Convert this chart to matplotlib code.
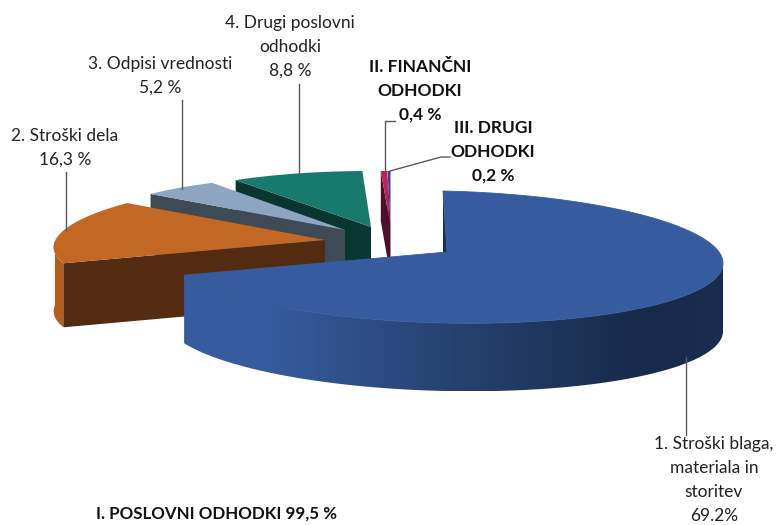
import matplotlib
matplotlib.use('Agg')
import matplotlib.pyplot as plt
import numpy as np
from matplotlib.colors import LinearSegmentedColormap
from matplotlib.patches import Polygon

plt.rcParams['font.family'] = ['Lato', 'DejaVu Sans']

# data
categories = ['1. Stroski blaga', '2. Stroski dela', '3. Odpisi vrednosti',
              '4. Drugi poslovni odhodki', 'II. Financni odhodki', 'III. Drugi odhodki']
values = [69.2, 16.3, 5.2, 8.8, 0.4, 0.2]

# label text, one entry per label
label_texts = ['1. Stroški blaga,\nmateriala in\nstoritev\n69.2%',
               '2. Stroški dela\n16,3 %',
               '3. Odpisi vrednosti\n5,2 %',
               '4. Drugi poslovni\nodhodki\n8,8 %',
               'II. FINANČNI\nODHODKI\n0,4 %',
               'III. DRUGI\nODHODKI\n0,2 %']
total_label = 'I. POSLOVNI ODHODKI 99,5 %'

# placement of each exploded slice on the page, in pixels
# apex x, apex y, rim cx, rim cy, x sin, x cos, y sin, y cos, depth
GEOM = [
    (447, 252, 444, 257, 279, -1, 6, -66, 68),
    (325, 240, 325, 240, 270, 27, -1, -62, 64),
    (345, 230, 345, 230, 252, 9, 4, -54, 60),
    (371, 227, 371, 227, 244, 0.5, 0.6, -56, 58),
    (390, 223, 390, 223, 244, 0, 0, -52, 50),
    (390.5, 223, 390.5, 223, 244, 0, 0, -52, 50),
]
TOP_COLORS = ['#365c9f', '#c26724', '#8da5c0', '#187a6e', '#b9255a', '#4b3a9a']
WALL_COLORS = ['#1b2f55', '#532b10', '#3f4a57', '#093631', '#4e0f2a', '#2e1f55']
OUTER_COLORS = [None, '#b35d1f', None, None, None, None]

LABEL_POS = [(714, 480), (65, 148), (160, 76), (290, 47), (420, 91), (493, 152)]
LABEL_BOLD = [False, False, False, False, True, True]
LEADERS = [
    [(686, 357), (686, 435)],
    [(66, 172), (66, 230)],
    [(182, 100), (182, 189)],
    [(299, 84), (299, 173)],
    [(395, 121), (385, 121), (385, 171)],
    [(450, 157), (441, 157), (390, 171)],
]


def rim_points(geom, theta):
    s = np.sin(theta)
    c = np.cos(theta)
    x = geom[2] + geom[4] * s + geom[5] * c
    y = geom[3] + geom[6] * s + geom[7] * c
    return np.column_stack([x, y])


def draw_slice(ax, i, start, end):
    geom = GEOM[i]
    depth = np.array([0, geom[8]])
    apex = np.array(geom[:2], dtype=float)
    theta = np.linspace(start, end, 200)
    rim = rim_points(geom, theta)
    # first slice ends up in front of all the others
    base = (len(values) - i) * 3

    # outer wall, only the part that faces the viewer
    front = theta[(theta >= np.pi / 2) & (theta <= 3 * np.pi / 2)]
    if len(front) > 1:
        front_rim = rim_points(geom, front)
        outline = np.vstack([front_rim, (front_rim + depth)[::-1]])
        if i == 0:
            cmap = LinearSegmentedColormap.from_list(
                'wall', [(0, '#365c9f'), (0.15, '#365c9f'), (0.5, '#27416f'),
                         (0.85, '#182a4a'), (1, '#1b2d4e')])
            x0, x1 = outline[:, 0].min(), outline[:, 0].max()
            y0, y1 = outline[:, 1].min(), outline[:, 1].max()
            im = ax.imshow(np.linspace(0, 1, 256).reshape(1, -1), cmap=cmap, aspect='auto',
                           extent=(x0, x1, y1, y0), zorder=base)
            im.set_clip_path(Polygon(outline, transform=ax.transData))
        else:
            ax.add_patch(Polygon(outline, fc=OUTER_COLORS[i], ec='none', zorder=base))

    # radial wall at the start of the slice
    first = rim[0]
    ax.add_patch(Polygon([first, apex, apex + depth, first + depth],
                         fc=WALL_COLORS[i], ec='none', zorder=base + 1))
    # top face, thin edge hides the seam against the gradient wall
    ax.add_patch(Polygon(np.vstack([apex, rim]), fc=TOP_COLORS[i], ec=TOP_COLORS[i],
                         lw=0.6 if i == 0 else 0, zorder=base + 2))


def main():
    fig = plt.figure(figsize=(7.78, 5.25), dpi=100)
    ax = fig.add_axes([0, 0, 1, 1])

    edges = np.cumsum([0] + values) / sum(values) * 2 * np.pi
    for i in range(len(values)):
        draw_slice(ax, i, edges[i], edges[i + 1])

    for pts in LEADERS:
        pts = np.array(pts)
        ax.plot(pts[:, 0], pts[:, 1], color='#595959', lw=1.0, zorder=50)

    for text, pos, bold in zip(label_texts, LABEL_POS, LABEL_BOLD):
        ax.text(pos[0], pos[1], text, ha='center', va='center', fontsize=12.5,
                linespacing=1.6, color='#111111' if bold else '#222222',
                fontweight='bold' if bold else 'normal', zorder=60)
    ax.text(96, 514, total_label, ha='left', va='center', fontsize=12.2,
            fontweight='bold', color='#111111', zorder=60)

    ax.set_xlim(0, 778)
    ax.set_ylim(525, 0)
    ax.axis('off')
    fig.savefig('out.png', dpi=100, facecolor='white')


if __name__ == "__main__":
    main()
